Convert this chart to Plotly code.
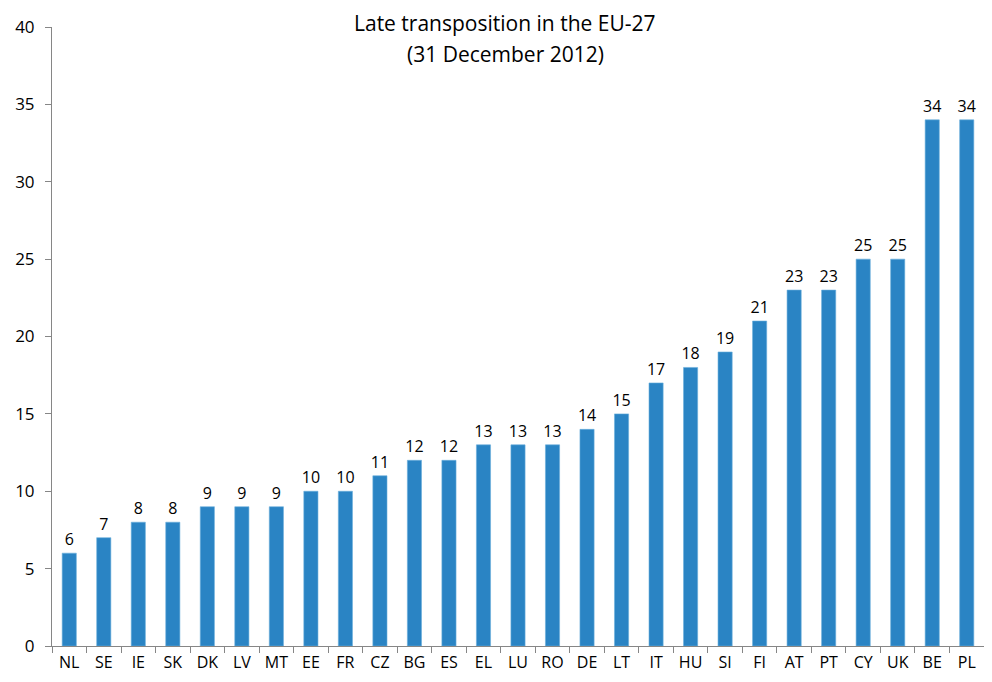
import plotly.graph_objects as go

countries = ["NL", "SE", "IE", "SK", "DK", "LV", "MT", "EE", "FR", "CZ", "BG", "ES", "EL", "LU",
             "RO", "DE", "LT", "IT", "HU", "SI", "FI", "AT", "PT", "CY", "UK", "BE", "PL"]
late = [6, 7, 8, 8, 9, 9, 9, 10, 10, 11, 12, 12, 13, 13, 13, 14, 15, 17, 18, 19, 21, 23, 23, 25, 25, 34, 34]
title_lines = ["Late transposition in the EU-27", "(31 December 2012)"]

font = "'Open Sans', sans-serif"

fig = go.Figure(go.Bar(
    x=countries, y=late,
    marker=dict(color="#2a84c4", line=dict(color="#6aaedc", width=0.6)),
    width=0.41,
    text=late, textposition="outside", cliponaxis=False, constraintext="none",
    textfont=dict(size=16, color="#000000", family=font),
))

# figure sits inside the page's 8px body margin
W, H = 976, 666
L, R, T, B = 44, 0, 19, 28
fig.update_layout(
    width=W, height=H,
    margin=dict(l=L, r=R, t=T, b=B, autoexpand=False),
    paper_bgcolor="white", plot_bgcolor="white",
    showlegend=False,
    font=dict(family=font, size=15, color="#000000"),
    bargap=0.59,
)
ph = H - T - B
pw = W - L - R
for i, (line, ypix) in enumerate(zip(title_lines, [23, 54])):
    fy = ypix - 8
    fig.add_annotation(text=line, xref="paper", yref="paper",
                       x=(505 - 8 - L) / pw, y=1 + (T - fy) / ph,
                       yanchor="middle", xanchor="center", showarrow=False,
                       font=dict(size=21, family=font, color="#000000"))
fig.update_xaxes(showline=True, linecolor="#868686", linewidth=1,
                 ticks="outside", ticklen=6, tickcolor="#868686",
                 tickson="boundaries", showgrid=False, automargin=False,
                 ticklabelstandoff=2,
                 tickfont=dict(size=16, family=font))
fig.update_yaxes(range=[0, 40], dtick=5, showline=True, linecolor="#868686", linewidth=1,
                 ticks="outside", ticklen=6, tickcolor="#868686", showgrid=False,
                 zeroline=False, automargin=False, ticklabelstandoff=7,
                 tickfont=dict(size=17, family=font))

fig.write_html("out.html")
